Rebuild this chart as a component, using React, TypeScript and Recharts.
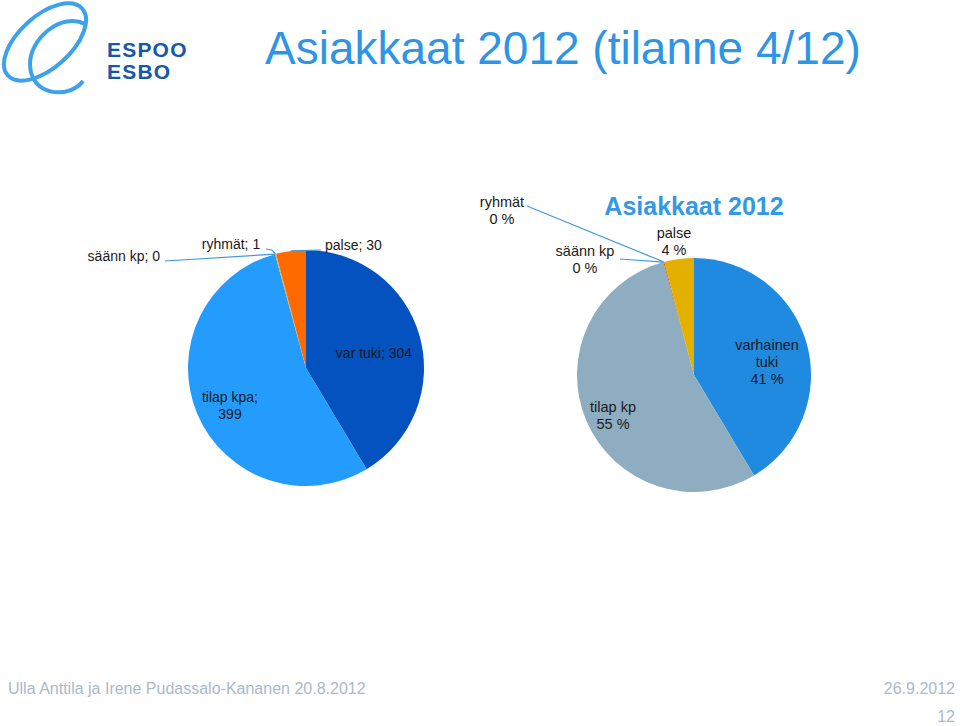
import React from "react";
import { PieChart, Pie, Cell } from "recharts";

// ---- data ----
const leftCategories = ["var tuki", "tilap kpa", "säänn kp", "ryhmät", "palse"];
const rightCategories = ["varhainen tuki", "tilap kp", "säänn kp", "ryhmät", "palse"];
const customerCounts = [304, 399, 0, 1, 30];
const rightPercentLabels = ["41 %", "55 %", "0 %", "0 %", "4 %"];

const mainTitle = "Asiakkaat 2012 (tilanne 4/12)";
const chartTitle = "Asiakkaat 2012";
const footerLeft = "Ulla Anttila ja Irene Pudassalo-Kananen 20.8.2012";
const footerDate = "26.9.2012";
const pageNumber = "12";

// ---- styles / layout ----
const leftColors = ["#0451C0", "#249CFD", "#9BB8D8", "#C8B646", "#FF6A00"];
const rightColors = ["#1F8AE0", "#8FADC0", "#9BB8D8", "#C8641E", "#E4B000"];
const FONT = "'Liberation Sans', Arial, Helvetica, sans-serif";
const LEADER = "#3E9BDB";

const leftData = leftCategories.map((name, i) => ({ name, value: customerCounts[i] }));
const rightData = rightCategories.map((name, i) => ({ name, value: customerCounts[i] }));

type Layout = {
  x: number;
  y: number;
  anchor: "start" | "middle" | "end";
  lines: (name: string, value: number, i: number) => string[];
  leader?: [number, number][];
};

const leftLayout: Layout[] = [
  { x: 374, y: 358, anchor: "middle", lines: (n, v) => [`${n}; ${v}`] },
  { x: 230, y: 402, anchor: "middle", lines: (n, v) => [`${n};`, `${v}`] },
  { x: 160, y: 261, anchor: "end", lines: (n, v) => [`${n}; ${v}`], leader: [[165, 261]] },
  { x: 231, y: 249, anchor: "middle", lines: (n, v) => [`${n}; ${v}`], leader: [[266, 249], [272, 250]] },
  { x: 325, y: 250, anchor: "start", lines: (n, v) => [`${n}; ${v}`], leader: [[321, 250]] },
];

const rightLayout: Layout[] = [
  { x: 767, y: 350, anchor: "middle", lines: (n, v, i) => [...n.split(" "), rightPercentLabels[i]] },
  { x: 613, y: 412, anchor: "middle", lines: (n, v, i) => [n, rightPercentLabels[i]] },
  { x: 585, y: 256, anchor: "middle", lines: (n, v, i) => [n, rightPercentLabels[i]], leader: [[620, 259]] },
  { x: 502, y: 207, anchor: "middle", lines: (n, v, i) => [n, rightPercentLabels[i]], leader: [[527, 206]] },
  { x: 674, y: 238, anchor: "middle", lines: (n, v, i) => [n, rightPercentLabels[i]] },
];

const RAD = Math.PI / 180;

function makeLabel(layout: Layout[], fontSize: number, lineHeight: number) {
  return (props: any) => {
    const { cx, cy, midAngle, outerRadius, index, name, value } = props;
    const l = layout[index];
    if (!l) return null;
    const px = cx + outerRadius * Math.cos(-midAngle * RAD);
    const py = cy + outerRadius * Math.sin(-midAngle * RAD);
    const lines = l.lines(name, value, index);
    return (
      <g key={`lbl-${index}`}>
        {l.leader && (
          <polyline
            points={[...l.leader, [px, py]].map((p) => p.join(",")).join(" ")}
            fill="none"
            stroke={LEADER}
            strokeWidth={1.2}
          />
        )}
        <text
          x={l.x}
          y={l.y}
          textAnchor={l.anchor}
          fontFamily={FONT}
          fontSize={fontSize}
          fill="#1a1a1a"
        >
          {lines.map((t, k) => (
            <tspan key={k} x={l.x} dy={k === 0 ? 0 : lineHeight}>
              {t}
            </tspan>
          ))}
        </text>
      </g>
    );
  };
}

const FOOT_FONT = "'Liberation Sans Narrow', 'Liberation Sans', Arial, sans-serif";

export default function App() {
  return (
    <div style={{ width: 960, height: 726, position: "relative", background: "#fff" }}>
      <style>{`body{margin:0}`}</style>
      <PieChart width={960} height={726} margin={{ top: 0, right: 0, bottom: 0, left: 0 }}>
        {/* logo */}
        <g>
          <ellipse cx={45} cy={42} rx={50} ry={26} transform="rotate(-42 45 42)" fill="none" stroke="#3DA2EA" strokeWidth={4} />
          <path d="M 85 24 C 62 12, 30 38, 30 64 C 30 97, 70 99, 83 81" fill="none" stroke="#3DA2EA" strokeWidth={4} />
          <text x={107} y={57} fontFamily={FONT} fontWeight="bold" fontSize={21} letterSpacing={1.2} fill="#1558A8">ESPOO</text>
          <text x={107} y={79} fontFamily={FONT} fontWeight="bold" fontSize={21} letterSpacing={1.2} fill="#1558A8">ESBO</text>
        </g>
        <text x={265} y={64} fontFamily={FONT} fontSize={46} fill="#2E95E6">{mainTitle}</text>
        <text x={694} y={215} textAnchor="middle" fontFamily={FONT} fontWeight="bold" fontSize={25} fill="#3399E6">{chartTitle}</text>

        <Pie
          data={leftData}
          dataKey="value"
          nameKey="name"
          cx={306}
          cy={368}
          outerRadius={118}
          startAngle={90}
          endAngle={-270}
          stroke="none"
          isAnimationActive={false}
          labelLine={false}
          label={makeLabel(leftLayout, 14, 17)}
        >
          {leftData.map((d, i) => (
            <Cell key={d.name} fill={leftColors[i]} />
          ))}
        </Pie>
        <Pie
          data={rightData}
          dataKey="value"
          nameKey="name"
          cx={694}
          cy={375}
          outerRadius={117}
          startAngle={90}
          endAngle={-270}
          stroke="none"
          isAnimationActive={false}
          labelLine={false}
          label={makeLabel(rightLayout, 14.5, 17)}
        >
          {rightData.map((d, i) => (
            <Cell key={d.name} fill={rightColors[i]} />
          ))}
        </Pie>

        <text x={8} y={694} fontFamily={FOOT_FONT} fontSize={16} fill="#A9BACB">{footerLeft}</text>
        <text x={955} y={694} textAnchor="end" fontFamily={FOOT_FONT} fontSize={16} fill="#A9BACB">{footerDate}</text>
        <text x={955} y={722} textAnchor="end" fontFamily={FOOT_FONT} fontSize={16} fill="#A9BACB">{pageNumber}</text>
      </PieChart>
    </div>
  );
}
